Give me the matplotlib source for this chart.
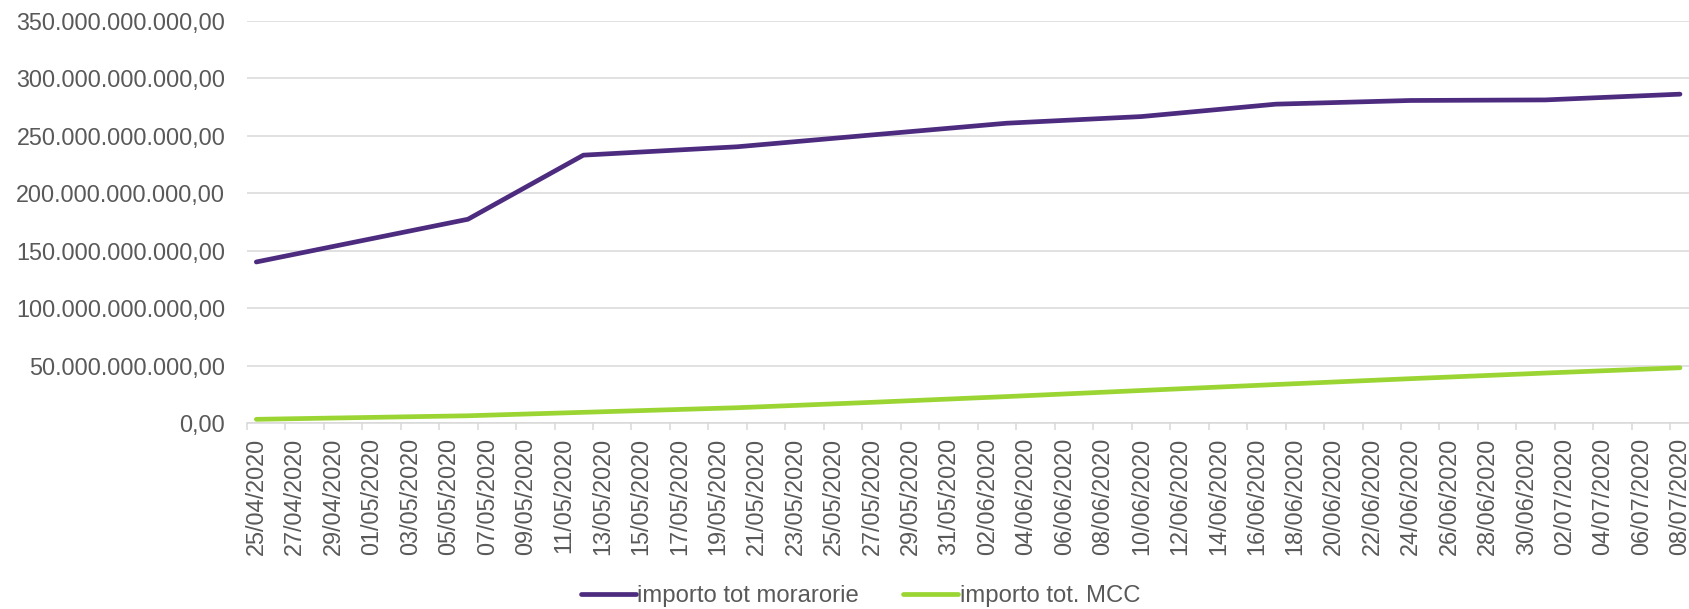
import matplotlib
matplotlib.use("Agg")
import matplotlib.pyplot as plt
import matplotlib.dates as mdates
from matplotlib.ticker import FixedLocator, FuncFormatter
import pandas as pd
import numpy as np

# ---- data ----
dates = ["2020-04-25", "2020-05-06", "2020-05-12", "2020-05-20", "2020-05-27",
         "2020-06-03", "2020-06-10", "2020-06-17", "2020-06-24", "2020-07-01",
         "2020-07-08"]
moratorie = [140.2e9, 177.4e9, 233.2e9, 240.5e9, 250.8e9,
             261.0e9, 266.8e9, 277.6e9, 280.8e9, 281.3e9, 286.3e9]
mcc = [3.2e9, 6.3e9, 9.3e9, 13.3e9, 18.0e9,
       23.0e9, 28.3e9, 33.5e9, 38.6e9, 43.5e9, 48.1e9]
series_names = ["importo tot morarorie", "importo tot. MCC"]
y_ticks = [0, 50e9, 100e9, 150e9, 200e9, 250e9, 300e9, 350e9]
tick_start, tick_end = "2020-04-25", "2020-07-08"

# ---- style ----
plt.rcParams['font.family'] = ['Liberation Sans', 'DejaVu Sans']
purple = "#4D2C80"
green = "#9BD533"
grid_c = "#D9D9D9"
text_c = "#595959"

W, H = 1690, 609
fig = plt.figure(figsize=(W / 100, H / 100), dpi=100)
ax = fig.add_axes([246.7 / W, 1 - 423 / H, (1689.6 - 246.7) / W, (423 - 21) / H])

x = pd.to_datetime(dates)
l1, = ax.plot(x, moratorie, color=purple, lw=3.4, solid_capstyle='round',
              solid_joinstyle='round', label=series_names[0], zorder=3)
l2, = ax.plot(x, mcc, color=green, lw=3.4, solid_capstyle='round',
              solid_joinstyle='round', label=series_names[1], zorder=3)

# x axis
tick_dates = pd.date_range(tick_start, tick_end, freq="2D")
tnum = mdates.date2num(tick_dates)
ax.set_xlim(tnum[0] - 0.5, tnum[-1] + 0.5)
ax.xaxis.set_major_locator(FixedLocator(tnum))
ax.xaxis.set_major_formatter(mdates.DateFormatter("%d/%m/%Y"))
ax.xaxis.set_minor_locator(FixedLocator(tnum - 0.5))
ax.tick_params(axis='x', which='major', length=0, pad=10.8, labelsize=16.9,
               labelcolor=text_c, labelrotation=90)
ax.tick_params(axis='x', which='minor', length=5, width=1.1, color=grid_c)

# y axis
ax.set_ylim(0, 350e9)
ax.set_yticks(y_ticks)

def itfmt(v, pos):
    s = f"{v:,.2f}"
    return s.replace(",", "X").replace(".", ",").replace("X", ".")

ax.yaxis.set_major_formatter(FuncFormatter(itfmt))
ax.tick_params(axis='y', length=0, pad=15.4, labelsize=16.8, labelcolor=text_c)
ax.grid(axis='y', color=grid_c, lw=1.1, zorder=0)
ax.set_axisbelow(True)

for s in ["top", "right", "left"]:
    ax.spines[s].set_visible(False)
ax.spines["bottom"].set_color(grid_c)
ax.spines["bottom"].set_linewidth(1.1)

leg = fig.legend(handles=[l1, l2], loc="center", bbox_to_anchor=(860.5 / W, 1 - 596 / H),
                 ncol=2, frameon=False, fontsize=17.2, handlelength=2.3,
                 handletextpad=0.07, columnspacing=1.85, borderpad=0)
for t in leg.get_texts():
    t.set_color(text_c)

fig.savefig("out.png", dpi=100)
